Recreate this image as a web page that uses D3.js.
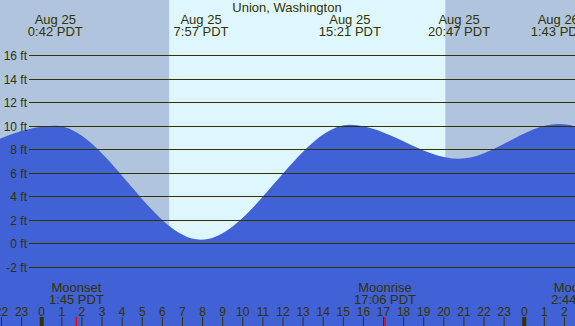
<!DOCTYPE html>
<html>
<head>
<meta charset="utf-8">
<script src="https://cdn.jsdelivr.net/npm/d3@7"></script>
<style>
  body { margin: 0; overflow: hidden; }
  svg { display: block; font-family: "Liberation Sans", Arial, sans-serif; }
</style>
</head>
<body>
<svg></svg>
<script>
const title = "Union, Washington";

// tide extremes (first and last are just outside the view)
const tideTimes = ["2024-08-24 20:05", "2024-08-25 00:42", "2024-08-25 07:57", "2024-08-25 15:21",
                   "2024-08-25 20:47", "2024-08-26 01:43", "2024-08-26 08:40"];
const tideHeights = [7.4, 10.0, 0.3, 10.1, 7.2, 10.15, 0.6];
const tideShown = [false, true, true, true, true, true, false];
const tideDays = ["Aug 24", "Aug 25", "Aug 25", "Aug 25", "Aug 25", "Aug 26", "Aug 26"];
const tideClock = ["20:05", "0:42", "7:57", "15:21", "20:47", "1:43", "8:40"];

const sunrises = ["2024-08-25 06:22", "2024-08-26 06:23"];
const sunsets = ["2024-08-24 20:08", "2024-08-25 20:06"];

const moonTimes = ["2024-08-25 01:45", "2024-08-25 17:06", "2024-08-26 02:44"];
const moonEvents = ["Moonset", "Moonrise", "Moonset"];
const moonClock = ["1:45", "17:06", "2:44"];

const feetTicks = [-2, 0, 2, 4, 6, 8, 10, 12, 14, 16];

const width = 575, height = 326;
const textColor = "#333300";
const parse = d3.timeParse("%Y-%m-%d %H:%M");

const svg = d3.select("svg").attr("width", width).attr("height", height);

const x = d3.scaleTime()
  .domain([parse("2024-08-24 21:57"), parse("2024-08-26 02:33")])
  .range([0, width]);
const y = d3.scaleLinear().domain([-7.04, 20.71]).range([height, 0]);

// night background, then day blocks
svg.append("rect").attr("width", width).attr("height", height).style("fill", "#b0c4de");
svg.selectAll(".day")
  .data(d3.range(sunrises.length))
  .enter().append("rect")
  .attr("x", i => x(parse(sunrises[i])))
  .attr("y", 0)
  .attr("width", i => {
    const end = i + 1 < sunsets.length ? parse(sunsets[i + 1]) : x.domain()[1];
    return Math.max(0, x(end) - x(parse(sunrises[i])));
  })
  .attr("height", height)
  .style("fill", "#def7ff");

// water
const tide = tideTimes.map((t, i) => [parse(t), tideHeights[i]]);
const area = d3.area()
  .curve(d3.curveMonotoneX)
  .x(d => x(d[0]))
  .y0(height)
  .y1(d => y(d[1]));
svg.append("path").datum(tide).attr("d", area).style("fill", "#4161d6");

// grid lines and feet labels
svg.selectAll(".grid")
  .data(feetTicks)
  .enter().append("line")
  .attr("x1", 29).attr("x2", width)
  .attr("y1", d => Math.round(y(d)) + 0.5)
  .attr("y2", d => Math.round(y(d)) + 0.5)
  .style("stroke", textColor).style("stroke-width", 1);
svg.selectAll(".ylab")
  .data(feetTicks)
  .enter().append("text")
  .attr("x", 27)
  .attr("y", d => Math.round(y(d)) + 5)
  .attr("text-anchor", "end")
  .style("font-size", "12px").style("fill", textColor)
  .text(d => d + " ft");

// title
svg.append("text")
  .attr("x", 287).attr("y", 12)
  .attr("text-anchor", "middle")
  .style("font-size", "13px").style("fill", textColor)
  .text(title);

// tide time labels
const tideIdx = d3.range(tideTimes.length).filter(i => tideShown[i]);
const tideLab = svg.selectAll(".tlab")
  .data(tideIdx)
  .enter().append("text")
  .attr("text-anchor", "middle")
  .style("font-size", "13px").style("fill", textColor);
tideLab.append("tspan")
  .attr("x", i => x(parse(tideTimes[i]))).attr("y", 24)
  .text(i => tideDays[i]);
tideLab.append("tspan")
  .attr("x", i => x(parse(tideTimes[i]))).attr("y", 36)
  .text(i => tideClock[i] + " PDT");

// moon labels
const moonLab = svg.selectAll(".mlab")
  .data(d3.range(moonTimes.length))
  .enter().append("text")
  .attr("text-anchor", "middle")
  .style("font-size", "13px").style("fill", textColor);
moonLab.append("tspan")
  .attr("x", i => x(parse(moonTimes[i]))).attr("y", 292)
  .text(i => moonEvents[i]);
moonLab.append("tspan")
  .attr("x", i => x(parse(moonTimes[i]))).attr("y", 304)
  .text(i => moonClock[i] + " PDT");

// hour axis
const axis = svg.append("g")
  .attr("transform", `translate(0,${height})`)
  .call(d3.axisTop(x)
    .ticks(d3.timeHour.every(1))
    .tickSize(9)
    .tickPadding(1)
    .tickFormat(d3.timeFormat("%-H")));
axis.select(".domain").remove();
axis.selectAll("text").style("font-size", "12px").style("fill", textColor)
  .style("font-family", "'Liberation Sans', Arial, sans-serif");
axis.selectAll("line").style("stroke", textColor)
  .style("stroke-width", d => d.getHours() == 0 ? 4 : 1);

// moon event ticks
svg.selectAll(".mtick")
  .data(moonTimes)
  .enter().append("line")
  .attr("x1", d => x(parse(d))).attr("x2", d => x(parse(d)))
  .attr("y1", height - 9).attr("y2", height)
  .style("stroke", "red").style("stroke-width", 1.5);
</script>
</body>
</html>
